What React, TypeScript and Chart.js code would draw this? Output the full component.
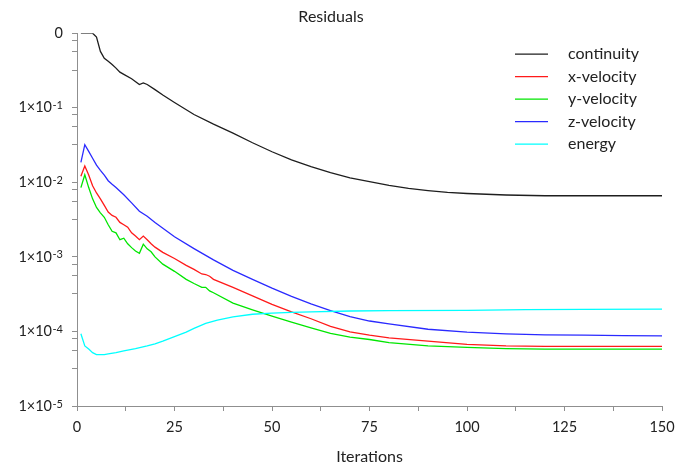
import React, { useEffect, useRef } from "react";
import { Chart, registerables } from "chart.js";

Chart.register(...registerables);

const TITLE = "Residuals";
const X_TITLE = "Iterations";

const X_TICKS = [0, 12.5, 25, 37.5, 50, 62.5, 75, 87.5, 100, 112.5, 125, 137.5, 150];
const X_LABELLED = [0, 25, 50, 75, 100, 125, 150];

const Y_MAJOR = [1, 1e-1, 1e-2, 1e-3, 1e-4, 1e-5];
const Y_LABEL_BASE = ["0", "1×10", "1×10", "1×10", "1×10", "1×10"];
const Y_LABEL_EXP = ["", "-1", "-2", "-3", "-4", "-5"];
const Y_MINOR_FACTORS = [0.8, 0.56, 0.32];

const SERIES_NAMES = ["continuity", "x-velocity", "y-velocity", "z-velocity", "energy"];
const SERIES_COLORS = ["#1e1e1e", "#ff1a1a", "#00e600", "#2a2aff", "#00ffff"];

const continuityIter = [1, 2, 3, 4, 5, 6, 7, 8, 9, 10, 11, 12, 14, 16, 17, 18, 20, 22, 25, 30, 35, 40, 45, 50, 55, 60, 65, 70, 75, 80, 85, 90, 95, 100, 110, 120, 130, 140, 150];
const continuityVal = [1, 1, 1, 1, 0.89, 0.57, 0.46, 0.42, 0.38, 0.34, 0.3, 0.28, 0.245, 0.205, 0.215, 0.205, 0.175, 0.148, 0.1175, 0.0813, 0.0603, 0.0457, 0.0339, 0.0257, 0.02, 0.0162, 0.0135, 0.0115, 0.0102, 0.0091, 0.0083, 0.00776, 0.00733, 0.00708, 0.00676, 0.0066, 0.0066, 0.0066, 0.0066];

const xVelIter = [1, 2, 3, 4, 5, 6, 7, 8, 9, 10, 11, 12, 13, 14, 15, 16, 17, 18, 19, 20, 22, 25, 28, 30, 32, 33, 34, 35, 40, 45, 50, 55, 60, 65, 70, 75, 80, 90, 100, 110, 120, 150];
const xVelVal = [0.0121, 0.0166, 0.0125, 0.009, 0.0072, 0.006, 0.0049, 0.004, 0.0036, 0.0034, 0.0029, 0.0027, 0.0025, 0.0021, 0.0019, 0.0017, 0.0019, 0.0017, 0.0015, 0.00135, 0.00115, 0.00095, 0.00077, 0.00068, 0.00059, 0.00058, 0.00055, 0.0005, 0.00039, 0.0003, 0.00023, 0.000183, 0.000148, 0.000117, 0.0000985, 0.000089, 0.000082, 0.000074, 0.000067, 0.000064, 0.000063, 0.000063];

const yVelIter = [1, 2, 3, 4, 5, 6, 7, 8, 9, 10, 11, 12, 13, 14, 15, 16, 17, 18, 19, 20, 22, 25, 28, 30, 32, 33, 34, 35, 40, 45, 50, 55, 60, 65, 70, 75, 80, 90, 100, 110, 120, 150];
const yVelVal = [0.0085, 0.0126, 0.0085, 0.006, 0.0046, 0.0039, 0.0034, 0.0027, 0.0022, 0.0021, 0.0017, 0.00178, 0.0015, 0.00133, 0.0012, 0.00112, 0.00148, 0.00128, 0.00117, 0.001, 0.0008, 0.00064, 0.0005, 0.00044, 0.00039, 0.00039, 0.00035, 0.00033, 0.00024, 0.000195, 0.00016, 0.000133, 0.000112, 0.000094, 0.000084, 0.000078, 0.000071, 0.000064, 0.000061, 0.000059, 0.000058, 0.000058];

const zVelIter = [1, 2, 3, 4, 5, 6, 7, 8, 9, 10, 12, 14, 16, 18, 20, 25, 30, 35, 40, 45, 50, 55, 60, 65, 70, 75, 80, 90, 100, 110, 120, 130, 140, 150];
const zVelVal = [0.0185, 0.032, 0.026, 0.021, 0.017, 0.0145, 0.0125, 0.0105, 0.0094, 0.0085, 0.0068, 0.0053, 0.0041, 0.0035, 0.0029, 0.00186, 0.00129, 0.00091, 0.00066, 0.0005, 0.00038, 0.000295, 0.000234, 0.00019, 0.000158, 0.000138, 0.000126, 0.000107, 0.000098, 0.000093, 0.00009, 0.000089, 0.000088, 0.000087];

const energyIter = [1, 2, 3, 4, 5, 6, 7, 8, 10, 12, 15, 18, 20, 22, 25, 28, 30, 33, 36, 40, 45, 50, 55, 60, 70, 80, 100, 115, 130, 150];
const energyVal = [0.000093, 0.000064, 0.000058, 0.000052, 0.000049, 0.000049, 0.000049, 0.00005, 0.000052, 0.000055, 0.000059, 0.000064, 0.000068, 0.000074, 0.000085, 0.000098, 0.00011, 0.000128, 0.000142, 0.000157, 0.00017, 0.000176, 0.00018, 0.000183, 0.000188, 0.00019, 0.000192, 0.000196, 0.000198, 0.000199];

const SERIES_ITERS = [continuityIter, xVelIter, yVelIter, zVelIter, energyIter];
const SERIES_VALUES = [continuityVal, xVelVal, yVelVal, zVelVal, energyVal];

const FONT = "Lato, 'Open Sans', 'DejaVu Sans', sans-serif";
const TEXT = "#222222";
const AXIS = "#8f8f8f";

const legendPlugin = {
  id: "insideLegend",
  afterDraw(chart: any) {
    const { ctx, chartArea } = chart;
    ctx.save();
    ctx.font = `16px ${FONT}`;
    ctx.textBaseline = "middle";
    ctx.textAlign = "left";
    chart.data.datasets.forEach((ds: any, i: number) => {
      const y = chartArea.top + 21 + i * 22.5;
      const x0 = chartArea.right - 147;
      ctx.strokeStyle = ds.borderColor;
      ctx.lineWidth = 1.3;
      ctx.beginPath();
      ctx.moveTo(x0, y);
      ctx.lineTo(x0 + 33, y);
      ctx.stroke();
      ctx.fillStyle = TEXT;
      ctx.fillText(ds.label, x0 + 53, y);
    });
    ctx.restore();
  },
};

const yLabelPlugin = {
  id: "yPowerLabels",
  afterDraw(chart: any) {
    const { ctx } = chart;
    const scale = chart.scales.y;
    const right = scale.right - 14;
    ctx.save();
    ctx.fillStyle = TEXT;
    Y_MAJOR.forEach((m, i) => {
      const y = scale.getPixelForValue(m);
      const base = Y_LABEL_BASE[i];
      const exp = Y_LABEL_EXP[i];
      ctx.font = `11px ${FONT}`;
      const ew = exp ? ctx.measureText(exp).width : 0;
      if (exp) {
        ctx.textAlign = "right";
        ctx.textBaseline = "alphabetic";
        ctx.fillText(exp, right, y + 1.5);
      }
      ctx.font = `14.5px ${FONT}`;
      ctx.textAlign = "right";
      ctx.textBaseline = "middle";
      ctx.fillText(base, right - ew - (exp ? 0.5 : 0), y);
    });
    ctx.restore();
  },
};

export default function App() {
  const ref = useRef<HTMLCanvasElement | null>(null);
  useEffect(() => {
    if (!ref.current) return;
    const datasets = SERIES_NAMES.map((name, i) => ({
      label: name,
      data: SERIES_ITERS[i].map((it, k) => ({ x: it, y: SERIES_VALUES[i][k] })),
      borderColor: SERIES_COLORS[i],
      backgroundColor: SERIES_COLORS[i],
      borderWidth: 1.3,
      pointRadius: 0,
      tension: 0,
      fill: false,
      order: SERIES_NAMES.length - i,
    }));
    const yTicks: number[] = [];
    Y_MAJOR.forEach((m, i) => {
      yTicks.push(m);
      if (i < Y_MAJOR.length - 1) Y_MINOR_FACTORS.forEach((f) => yTicks.push(m * f));
    });
    const chart = new Chart(ref.current, {
      type: "line",
      data: { datasets },
      plugins: [legendPlugin, yLabelPlugin],
      options: {
        animation: false,
        responsive: false,
        devicePixelRatio: 1,
        layout: { padding: { left: 0, right: 16, top: 0, bottom: 0 } },
        plugins: {
          legend: { display: false },
          tooltip: { enabled: false },
          title: {
            display: true,
            text: TITLE,
            color: TEXT,
            font: { family: FONT, size: 16, weight: "normal" },
            padding: { top: 7, bottom: 7 },
          },
        },
        scales: {
          x: {
            type: "linear",
            min: 0,
            max: 150,
            afterBuildTicks: (scale: any) => {
              scale.ticks = X_TICKS.map((v) => ({ value: v }));
            },
            afterFit: (scale: any) => {
              scale.height = 59;
              scale.paddingLeft = 0;
              scale.paddingRight = 0;
            },
            ticks: {
              color: TEXT,
              font: { family: FONT, size: 14.5 },
              padding: 8,
              maxRotation: 0,
              autoSkip: false,
              callback: (v: any) => (X_LABELLED.includes(Number(v)) ? String(v) : ""),
            },
            grid: { drawOnChartArea: false, drawTicks: true, tickLength: 5, color: AXIS },
            border: { display: true, color: AXIS, width: 1 },
            title: {
              display: true,
              text: X_TITLE,
              color: TEXT,
              font: { family: FONT, size: 16 },
              padding: { top: 0, bottom: -1 },
            },
          },
          y: {
            type: "logarithmic",
            min: 1e-5,
            max: 1,
            afterBuildTicks: (scale: any) => {
              scale.ticks = yTicks.map((v) => ({ value: v }));
            },
            afterFit: (scale: any) => {
              scale.width = 77;
              scale.paddingTop = 0;
              scale.paddingBottom = 0;
            },
            ticks: {
              display: true,
              color: TEXT,
              font: { family: FONT, size: 14.5 },
              padding: 6,
              autoSkip: false,
              callback: () => "",
            },
            grid: { drawOnChartArea: false, drawTicks: true, tickLength: 5, color: AXIS },
            border: { display: true, color: AXIS, width: 1 },
          },
        },
      } as any,
    });
    return () => chart.destroy();
  }, []);
  return (
    <div style={{ position: "fixed", left: 0, top: 0, width: 678, height: 465, background: "#fff" }}>
      <canvas ref={ref} width={678} height={465} style={{ width: 678, height: 465 }} />
    </div>
  );
}
